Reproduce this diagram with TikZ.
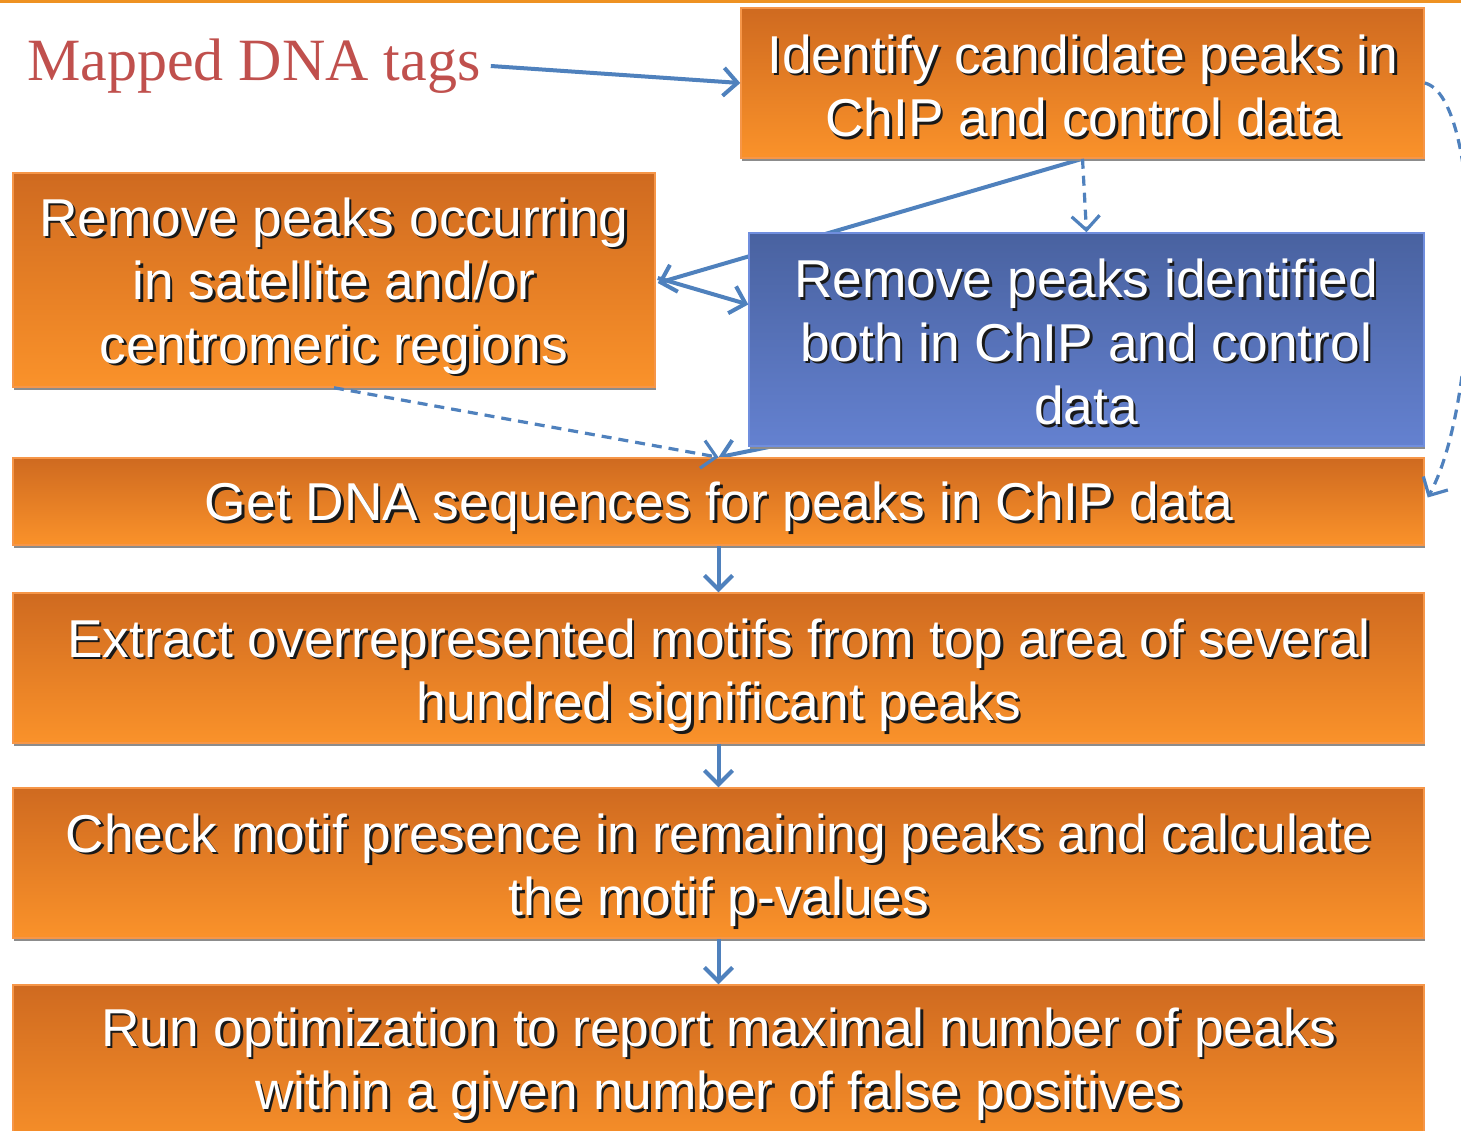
\documentclass[tikz,border=0pt]{standalone}
\usepackage{fontspec}
\setmainfont{Liberation Sans}
\newfontfamily\tagfont{Liberation Serif}
\usetikzlibrary{arrows.meta,shadows,calc,backgrounds}

\definecolor{otop}{RGB}{207,106,32}
\definecolor{obot}{RGB}{250,146,42}
\definecolor{oedge}{RGB}{246,150,72}
\definecolor{btop}{RGB}{73,98,160}
\definecolor{bbot}{RGB}{100,129,208}
\definecolor{bedge}{RGB}{112,142,222}
\definecolor{flow}{RGB}{79,129,189}
\definecolor{tagred}{RGB}{192,80,77}
\definecolor{topline}{RGB}{238,146,34}

\tikzset{
  box/.style={rectangle, line width=1.5pt, inner sep=0pt,
    drop shadow={shadow xshift=1pt, shadow yshift=-3pt, opacity=1, fill=black!45}},
  obox/.style={box, draw=oedge, top color=otop, bottom color=obot},
  bbox/.style={box, draw=bedge, top color=btop, bottom color=bbot},
  lbl/.style={align=center, inner sep=0pt, font=\fontsize{53.3}{63.5}\selectfont},
  conn/.style={draw=flow, line width=4pt,
    -{Straight Barb[length=14pt,width=28pt,line width=4pt]}},
  dconn/.style={draw=flow, line width=3.2pt, dash pattern=on 10pt off 7pt,
    -{Straight Barb[length=14pt,width=28pt,line width=3.2pt]}},
}

% white label with a dark drop shadow: #1 position, #2 name, #3 text
\newcommand\shadowlabel[3]{%
  \node[lbl, text=black!90] (#2s) at ($(#1)+(2.5,2.5)$) {#3};
  \node[lbl, text=white] (#2) at (#1) {#3};}

\begin{document}
\begin{tikzpicture}[x=1pt, y=-1pt]
\useasboundingbox (0,0) rectangle (1461,1130);
\draw[topline, line width=3pt] (0,1) -- (1461,1);

% boxes
\node[obox, minimum width=683, minimum height=150] (b1) at (1082.5,83) {};
\node[obox, minimum width=642, minimum height=214] (b2) at (334,280) {};
\node[bbox, minimum width=675, minimum height=213] (b3) at (1086.5,339.5) {};
\node[obox, minimum width=1411, minimum height=87] (b4) at (718.5,501.5) {};
\node[obox, minimum width=1411, minimum height=150] (b5) at (718.5,668) {};
\node[obox, minimum width=1411, minimum height=150] (b6) at (718.5,863) {};
\node[obox, minimum width=1411, minimum height=170] (b7) at (718.5,1070) {};

% labels
\shadowlabel{1083,86}{t1}{Identify candidate peaks in\\ChIP and control data}
\shadowlabel{334,286}{t2}{Remove peaks occurring\\in satellite and/or\\centromeric regions}
\shadowlabel{1086,342}{t3}{Remove peaks identified\\both in ChIP and control\\data}
\shadowlabel{719,507}{t4}{Get DNA sequences for peaks in ChIP data}
\shadowlabel{719,675}{t5}{Extract overrepresented motifs from top area of several\\hundred significant peaks}
\shadowlabel{719,870}{t6}{Check motif presence in remaining peaks and calculate\\the motif p-values}
\shadowlabel{719,1064}{t7}{Run optimization to report maximal number of peaks\\within a given number of false positives}

\node[text=tagred, inner sep=10pt, font=\tagfont\fontsize{60}{62}\selectfont] (tags) at (254,66) {Mapped DNA tags};

% white page and the connectors that pass behind the boxes
\begin{pgfonlayer}{background}
  \fill[white] (0,3) rectangle (1461,1130);
  \draw[conn] (b1.south) -- ($(b2.east)+(2,3)$);
  \draw[conn] ($(b3.south west)+(120,-20)$) -- (b4.north);
\end{pgfonlayer}

% connectors
\draw[conn] (tags.east) -- (b1.west);
\draw[conn] ($(b2.east)+(2,-2)$) -- ($(b3.west)+(0,-35)$);
\draw[dconn] (b1.south) -- (b3.north);
\draw[dconn] (b2.south) -- (b4.north);
\draw[dconn] (b1.east) .. controls +(60,15) and +(55,-100) .. ($(b4.east)+(3,-4)$);
\draw[conn] (b4.south) -- (b5.north);
\draw[conn] (b5.south) -- (b6.north);
\draw[conn] (b6.south) -- (b7.north);
\end{tikzpicture}
\end{document}
